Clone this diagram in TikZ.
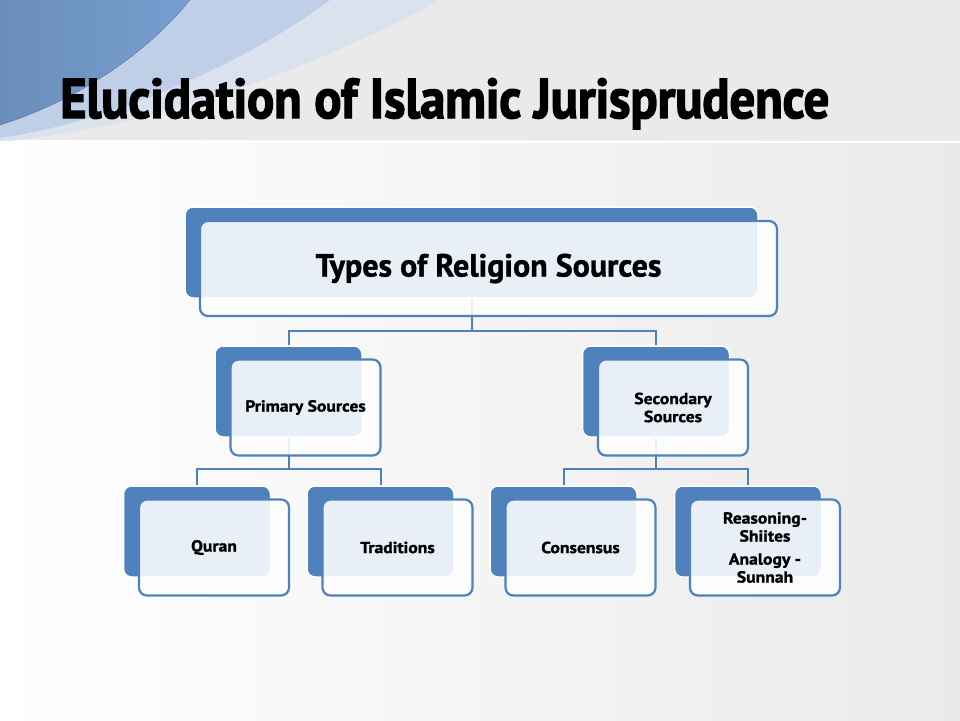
\documentclass[tikz,border=0pt]{standalone}
\usepackage{fontspec}
\setmainfont[BoldFeatures={FakeBold=1.2}]{PT Sans}
\newfontfamily\titlefont[FakeStretch=0.9,FakeBold=2.5]{PT Sans}
\newfontfamily\boxfont[FakeStretch=1.1,BoldFeatures={FakeBold=1.4}]{PT Sans}
\usepackage{tikz}
\definecolor{blueback}{RGB}{79,129,189}
\definecolor{swoosh}{RGB}{118,158,206}
\definecolor{swooshlight}{RGB}{190,207,231}
\definecolor{swooshpale}{RGB}{218,226,238}
\definecolor{slidegray}{RGB}{234,234,234}
\tikzstyle{back} = [draw=white, line width=1.5pt, fill=blueback, rounded corners=8pt, minimum width=147pt, minimum height=91pt]
\tikzstyle{front} = [draw=blueback, line width=2.2pt, fill=white, fill opacity=0.88, text opacity=1, rounded corners=8pt, minimum width=150pt, minimum height=96pt, align=center, font=\boxfont\bfseries\fontsize{16}{18}\selectfont]
\tikzstyle{link} = [blueback, line width=2pt]

\begin{document}
\begin{tikzpicture}[x=1pt, y=-1pt]
\useasboundingbox (0,0) rectangle (960,720);
% slide background
\fill[left color=white, right color=slidegray] (0,0) rectangle (960,720);
\fill[slidegray] (0,0) rectangle (960,140);
\fill[swooshpale] (0,0) -- (440,0) .. controls (330,60) and (170,125) .. (0,142) -- cycle;
\fill[swooshlight] (0,0) -- (330,0) .. controls (250,60) and (120,120) .. (0,138) -- cycle;
\fill[left color=swoosh!90!black, right color=swoosh] (0,0) -- (190,0) .. controls (150,50) and (80,100) .. (0,125) -- cycle;
\draw[white, line width=2pt] (0,142) -- (960,142);
\node (title) [anchor=base west, inner sep=0pt, font=\titlefont\bfseries\fontsize{56}{56}\selectfont] at (60,118) {Elucidation of Islamic Jurisprudence};

% back boxes
\node (types back) [back, minimum width=573pt] at (471.5,252.5) {};
\node (primary back) [back] at (288.5,391.5) {};
\node (secondary back) [back] at (656,391.5) {};
\node (quran back) [back] at (197,531.5) {};
\node (traditions back) [back] at (380.5,531.5) {};
\node (consensus back) [back] at (563.5,531.5) {};
\node (reasoning back) [back] at (748,531.5) {};

% tree lines
\draw [link] (types back.south) -- ++(0,32) -| (primary back.north);
\draw [link] (types back.south) -- ++(0,32) -| (secondary back.north);
\draw [link] (primary back.south) -- ++(0,31) -| (quran back.north);
\draw [link] (primary back.south) -- ++(0,31) -| (traditions back.north);
\draw [link] (secondary back.south) -- ++(0,31) -| (consensus back.north);
\draw [link] (secondary back.south) -- ++(0,31) -| (reasoning back.north);

% front boxes
\node (types) [front, minimum width=577pt, minimum height=95pt, font=\bfseries\fontsize{32}{36}\selectfont] at ([shift={(17,16)}]types back.center) {Types of Religion Sources};
\node (primary) [front] at ([shift={(17,16)}]primary back.center) {Primary Sources};
\node (secondary) [front] at ([shift={(17,16)}]secondary back.center) {Secondary\\Sources};
\node (quran) [front] at ([shift={(17,16)}]quran back.center) {Quran};
\node (traditions) [front] at ([shift={(17,16)}]traditions back.center) {Traditions};
\node (consensus) [front] at ([shift={(17,16)}]consensus back.center) {Consensus};
\node (reasoning) [front] at ([shift={(17,16)}]reasoning back.center) {Reasoning-\\Shiites\\[5pt]Analogy -\\Sunnah};

\end{tikzpicture}
\end{document}
